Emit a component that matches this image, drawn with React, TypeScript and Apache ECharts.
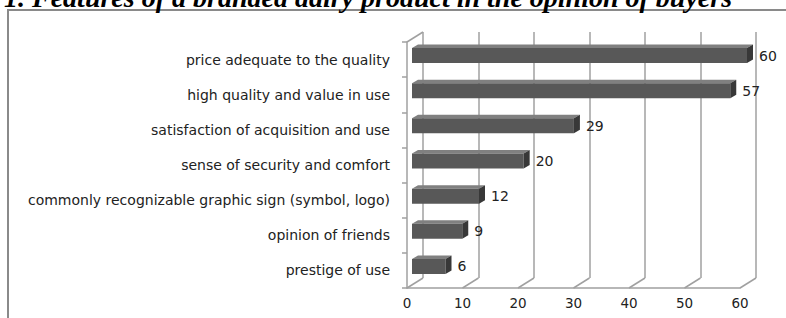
import React, { useEffect, useRef } from "react";
import * as echarts from "echarts";

const categories = [
  "price adequate to the quality",
  "high quality and value in use",
  "satisfaction of acquisition and use",
  "sense of security and comfort",
  "commonly recognizable graphic sign (symbol, logo)",
  "opinion of friends",
  "prestige of use",
];
const values = [60, 57, 29, 20, 12, 9, 6];
const xTicks = [0, 10, 20, 30, 40, 50, 60];
const titleText = "1. Features of a branded dairy product in the opinion of buyers";

const DX = 16;
const DY = 10;
const LABEL_FONT = "DejaVu Sans";
const GRID_COLOR = "#a0a0a0";

export default function App() {
  const ref = useRef<HTMLDivElement>(null);
  useEffect(() => {
    if (!ref.current) return;
    const chart = echarts.init(ref.current, null, { renderer: "svg" });
    const front = { left: 407, top: 42, width: 333, height: 246 };
    const option: any = {
      animation: false,
      grid: [
        { ...front, outerBoundsMode: "none" },
        { left: front.left + DX, top: front.top - DY, width: front.width, height: front.height, outerBoundsMode: "none" },
        { left: front.left + 5, top: front.top - 5, width: front.width + 2, height: front.height, outerBoundsMode: "none" },
      ],
      xAxis: [
        {
          gridIndex: 0, type: "value", min: 0, max: 60, interval: 10,
          axisLine: { show: true, lineStyle: { color: GRID_COLOR, width: 1.5 } },
          axisTick: { show: false },
          splitLine: { show: false },
          axisLabel: { show: true, margin: 8, color: "#222", fontFamily: LABEL_FONT, fontSize: 13.5 },
        },
        {
          gridIndex: 1, type: "value", min: 0, max: 60, interval: 10,
          axisLine: { show: false }, axisTick: { show: false }, axisLabel: { show: false },
          splitLine: { show: true, lineStyle: { color: GRID_COLOR, width: 1.5 } },
        },
        { gridIndex: 2, type: "value", min: 0, max: 60, show: false },
      ],
      yAxis: [
        {
          gridIndex: 0, type: "category", inverse: true, data: categories,
          axisLine: { show: true, lineStyle: { color: GRID_COLOR, width: 1.5 } },
          axisTick: { show: true, length: 5, lineStyle: { color: GRID_COLOR, width: 1.5 } },
          axisLabel: { margin: 17, color: "#222", fontFamily: LABEL_FONT, fontSize: 14 },
          splitLine: { show: false },
        },
        { gridIndex: 1, type: "category", inverse: true, data: categories, show: false },
        { gridIndex: 2, type: "category", inverse: true, data: categories, show: false },
      ],
      graphic: [
        {
          type: "rect", z: -10, silent: true,
          shape: { x: 8, y: 10, width: 900, height: 400 },
          style: { fill: "none", stroke: "#8a8a8a", lineWidth: 2 },
        },
        {
          type: "text", z: 10,
          x: 4, y: -3,
          style: {
            text: titleText,
            font: 'bold italic 28px "Liberation Serif"',
            fill: "#000",
            align: "left",
            verticalAlign: "middle",
          },
        },
      ],
      series: [
        {
          type: "custom",
          xAxisIndex: 0, yAxisIndex: 0, z: 1, silent: true,
          data: xTicks.map((t) => [t, 0]),
          renderItem: (params: any, api: any) => {
            const p = api.coord([api.value(0), 0]);
            const cs = params.coordSys;
            const bottom = cs.y + cs.height;
            const style = { stroke: GRID_COLOR, lineWidth: 1.5 };
            const children: any[] = [
              { type: "line", shape: { x1: p[0], y1: bottom, x2: p[0] + DX, y2: bottom - DY }, style },
            ];
            if (params.dataIndex === 0) {
              children.push({ type: "line", shape: { x1: cs.x, y1: cs.y, x2: cs.x + DX, y2: cs.y - DY }, style });
            }
            return { type: "group", children };
          },
        },
        {
          type: "custom",
          xAxisIndex: 2, yAxisIndex: 2, z: 5, silent: true,
          data: values.map((v, i) => [v, i]),
          renderItem: (params: any, api: any) => {
            const v = api.value(0);
            const c = api.value(1);
            const p0 = api.coord([0, c]);
            const p1 = api.coord([v, c]);
            const h = 15;
            const dx = 6;
            const dy = 3.5;
            const cy = p0[1] + 1;
            const y0 = cy - h / 2;
            const y1 = cy + h / 2;
            return {
              type: "group",
              children: [
                {
                  type: "polygon",
                  shape: { points: [[p0[0], y0], [p1[0], y0], [p1[0] + dx, y0 - dy], [p0[0] + dx, y0 - dy]] },
                  style: { fill: "#808080" },
                },
                {
                  type: "rect",
                  shape: { x: p0[0], y: y0, width: p1[0] - p0[0], height: h },
                  style: { fill: "#585858" },
                },
                {
                  type: "polygon",
                  shape: { points: [[p1[0], y0], [p1[0] + dx, y0 - dy], [p1[0] + dx, y1 - dy], [p1[0], y1]] },
                  style: { fill: "#383838" },
                },
                {
                  type: "text",
                  style: {
                    text: String(v),
                    x: p1[0] + dx + 6,
                    y: cy,
                    align: "left",
                    verticalAlign: "middle",
                    fontFamily: LABEL_FONT,
                    fontSize: 14,
                    fill: "#222",
                  },
                },
              ],
            };
          },
        },
      ],
    };
    chart.setOption(option);
    return () => chart.dispose();
  }, []);
  return (
    <div
      ref={ref}
      style={{ position: "fixed", left: 0, top: 0, width: 786, height: 318, background: "#fff" }}
    />
  );
}
